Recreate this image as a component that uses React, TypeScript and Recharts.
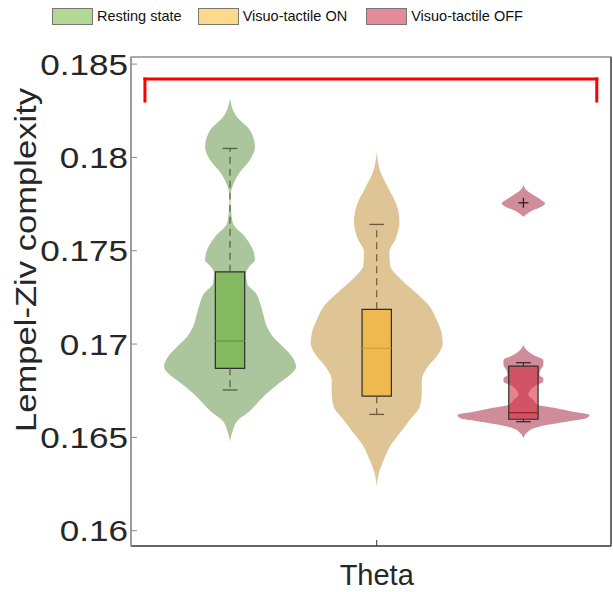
import React from 'react';
import {
  ComposedChart,
  Area,
  XAxis,
  YAxis,
  ReferenceArea,
  ReferenceLine,
  ReferenceDot,
  Legend,
} from 'recharts';

// ---------- data ----------
const CONDITIONS = ['Resting state', 'Visuo-tactile ON', 'Visuo-tactile OFF'];
const CONDITION_POS = [1, 2, 3];
const BAND_LABEL = 'Theta';
const BAND_POS = 2;
const Y_TITLE = 'Lempel-Ziv complexity';
const Y_TICKS = [0.16, 0.165, 0.17, 0.175, 0.18, 0.185];
const Y_DOMAIN: [number, number] = [0.15918, 0.18538];
const X_DOMAIN: [number, number] = [0.325, 3.597];

// violin profiles: [value, half width in group units]
const VIOLIN_REST: [number, number][] = [
  [0.18316, 0], [0.18218, 0.046], [0.18146, 0.136], [0.18057, 0.17], [0.17986, 0.136],
  [0.17914, 0.061], [0.17852, 0.02], [0.17789, 0.003], [0.17718, 0.007], [0.17647, 0.02],
  [0.17575, 0.102], [0.17504, 0.157], [0.1745, 0.17], [0.17414, 0.13], [0.17379, 0.109],
  [0.17325, 0.116], [0.17272, 0.177], [0.17218, 0.205], [0.17164, 0.225], [0.17093, 0.252],
  [0.17039, 0.293], [0.16986, 0.361], [0.16932, 0.423], [0.16878, 0.45], [0.16834, 0.409],
  [0.1679, 0.334], [0.16736, 0.252], [0.16682, 0.184], [0.16629, 0.116], [0.16593, 0.055],
  [0.16539, 0.02], [0.16477, 0],
];
const VIOLIN_ON: [number, number][] = [
  [0.1803, 0], [0.17923, 0.025], [0.17834, 0.08], [0.17745, 0.136], [0.17655, 0.155],
  [0.17566, 0.13], [0.17495, 0.087], [0.17423, 0.091], [0.17352, 0.157], [0.1728, 0.259],
  [0.17209, 0.354], [0.17129, 0.409], [0.17057, 0.443], [0.17004, 0.45], [0.1695, 0.423],
  [0.16878, 0.348], [0.16807, 0.307], [0.16736, 0.307], [0.16664, 0.293], [0.16593, 0.225],
  [0.16522, 0.157], [0.1645, 0.089], [0.16379, 0.048], [0.16307, 0.014], [0.16236, 0],
];
const VIOLIN_OFF_UPPER: [number, number][] = [
  [0.17852, 0], [0.17825, 0.02], [0.17798, 0.068], [0.17771, 0.123], [0.17754, 0.148],
  [0.17736, 0.123], [0.17718, 0.068], [0.177, 0.027], [0.17682, 0],
];
const VIOLIN_OFF_LOWER: [number, number][] = [
  [0.16995, 0], [0.16968, 0.022], [0.16941, 0.068], [0.16914, 0.136], [0.16888, 0.136],
  [0.16861, 0.116], [0.16834, 0.109], [0.16816, 0.136], [0.16798, 0.136], [0.1678, 0.089],
  [0.16754, 0.048], [0.16727, 0.034], [0.167, 0.068], [0.16673, 0.102], [0.16656, 0.225],
  [0.16637, 0.341], [0.1662, 0.45], [0.16602, 0.429], [0.16584, 0.293], [0.16566, 0.157],
  [0.16548, 0.068], [0.16522, 0.02], [0.16495, 0],
];

// box-plot statistics per condition
const WHISKER_LOW = [0.16754, 0.16623, 0.16584];
const Q1 = [0.1687, 0.16721, 0.16597];
const MEDIAN = [0.17016, 0.16977, 0.16632];
const Q3 = [0.17387, 0.17186, 0.16882];
const WHISKER_HIGH = [0.18048, 0.17641, 0.169];
const OUTLIERS = [{ group: 3, value: 0.17757 }];

// significance bracket
const BRACKET_X = [0.42, 3.5];
const BRACKET_Y = [0.18302, 0.1842];

// ---------- styles ----------
const FONT = '"Liberation Sans", Arial, Helvetica, sans-serif';
const BOX_HALF = 0.1;
const CAP_HALF = 0.05;
const VIOLIN_FILL = ['#abc59c', '#dfc495', '#cf8d99'];
const BOX_FILL = ['#84b861', '#eeba50', '#d22b40'];
const BOX_OPACITY = [1, 1, 0.58];
const MEDIAN_COLOR = ['#5f9a40', '#d49e35', '#a3202f'];
const WHISKER_COLOR = ['#4e6143', '#6e5a38', '#4a2028'];
const LEGEND_FILL = ['#b3d895', '#fdd98c', '#e48a98'];

const toArea = (profile: [number, number][], center: number) =>
  profile.map(([v, w]) => ({ y: v, range: [center - w, center + w] }));

const fmt = (v: number) => String(Number(v.toFixed(3)));

function YTick(props: any) {
  const { x, y, payload } = props;
  return (
    <text
      x={x}
      y={y}
      textAnchor="end"
      dominantBaseline="central"
      fontSize={30}
      fill="#262626"
      fontFamily={FONT}
      transform={`translate(${x} ${y}) scale(1.17 1) translate(${-x} ${-y})`}
    >
      {fmt(payload.value)}
    </text>
  );
}

function YTitle(props: any) {
  const vb = props.viewBox || { x: 0, y: 49, width: 123, height: 489 };
  const cx = vb.x + 18;
  const cy = vb.y + vb.height * 0.415;
  return (
    <text
      x={cx}
      y={cy}
      transform={`rotate(-90 ${cx} ${cy})`}
      textAnchor="middle"
      dominantBaseline="central"
      fontSize={29}
      fill="#262626"
      fontFamily={FONT}
      textLength={344}
      lengthAdjust="spacingAndGlyphs"
    >
      {Y_TITLE}
    </text>
  );
}

function LegendContent() {
  return (
    <div
      style={{
        height: 48,
        display: 'flex',
        alignItems: 'flex-start',
        paddingLeft: 44,
        paddingTop: 0,
        fontFamily: FONT,
        fontSize: 14.5,
        color: '#111',
        boxSizing: 'border-box',
      }}
    >
      {CONDITIONS.map((c, i) => (
        <div key={c} style={{ display: 'flex', alignItems: 'center', marginRight: i === 0 ? 16 : 19 }}>
          <div
            style={{
              width: 39,
              height: 15,
              background: LEGEND_FILL[i],
              border: '1px solid #777',
              marginRight: 4,
            }}
          />
          <span style={{ lineHeight: '17px', whiteSpace: 'nowrap' }}>{c}</span>
        </div>
      ))}
    </div>
  );
}

function PlusMark(props: any) {
  const { cx, cy } = props;
  return (
    <g stroke="#3a1a20" strokeWidth={1.3}>
      <line x1={cx - 5} y1={cy} x2={cx + 5} y2={cy} />
      <line x1={cx} y1={cy - 5} x2={cx} y2={cy + 5} />
    </g>
  );
}

export default function App() {
  const W = 605;
  const H = 584;
  const violins = [
    { key: 'rest', data: toArea(VIOLIN_REST, CONDITION_POS[0]), fill: VIOLIN_FILL[0] },
    { key: 'on', data: toArea(VIOLIN_ON, CONDITION_POS[1]), fill: VIOLIN_FILL[1] },
    { key: 'offU', data: toArea(VIOLIN_OFF_UPPER, CONDITION_POS[2]), fill: VIOLIN_FILL[2] },
    { key: 'offL', data: toArea(VIOLIN_OFF_LOWER, CONDITION_POS[2]), fill: VIOLIN_FILL[2] },
  ];
  return (
    <div style={{ position: 'absolute', left: 8, top: 8, width: W, height: H, fontFamily: FONT, overflow: 'hidden' }}>
      <ComposedChart
        width={W}
        height={H}
        layout="vertical"
        margin={{ top: 0, right: 1, bottom: 0, left: 0 }}
      >
        <Legend verticalAlign="top" align="left" content={() => <LegendContent />} />
        <XAxis
          type="number"
          dataKey="x"
          domain={X_DOMAIN}
          allowDataOverflow
          ticks={[BAND_POS]}
          tickFormatter={() => BAND_LABEL}
          height={46}
          tickSize={-6}
          tickMargin={24}
          axisLine={{ stroke: '#4d4d4d', strokeWidth: 1.5 }}
          tickLine={{ stroke: '#333' }}
          tick={{ fontSize: 29, fill: '#262626', fontFamily: FONT }}
        />
        <XAxis
          xAxisId="top"
          orientation="top"
          type="number"
          domain={X_DOMAIN}
          allowDataOverflow
          ticks={[BAND_POS]}
          height={1}
          tickSize={-6}
          tick={false}
          axisLine={{ stroke: '#a0a0a0', strokeWidth: 1 }}
          tickLine={{ stroke: '#333' }}
        />
        <YAxis
          type="number"
          dataKey="y"
          reversed
          domain={Y_DOMAIN}
          allowDataOverflow
          ticks={Y_TICKS}
          width={123}
          tickSize={-6}
          tickMargin={9}
          axisLine={{ stroke: '#9a9a9a', strokeWidth: 1.5 }}
          tickLine={{ stroke: '#888' }}
          tick={<YTick />}
          label={<YTitle />}
        />
        <YAxis
          yAxisId="right"
          orientation="right"
          type="number"
          reversed
          domain={Y_DOMAIN}
          allowDataOverflow
          ticks={Y_TICKS}
          width={1}
          tickSize={-6}
          tick={false}
          axisLine={{ stroke: '#5a5a5a', strokeWidth: 1.5 }}
          tickLine={{ stroke: '#666' }}
        />

        <ReferenceArea
          x1={X_DOMAIN[0]}
          x2={X_DOMAIN[1]}
          y1={Y_DOMAIN[0]}
          y2={Y_DOMAIN[1]}
          fill="none"
          fillOpacity={0}
          stroke="#6a6a6a"
          strokeWidth={1.2}
          strokeOpacity={1}
        />

        {violins.map((v) => (
          <Area
            key={v.key}
            data={v.data}
            dataKey="range"
            type="monotone"
            fill={v.fill}
            fillOpacity={1}
            stroke="none"
            dot={false}
            activeDot={false}
            isAnimationActive={false}
          />
        ))}

        {CONDITION_POS.map((c, i) => (
          <ReferenceLine
            key={`wh-${i}`}
            segment={[{ x: c, y: Q3[i] }, { x: c, y: WHISKER_HIGH[i] }]}
            stroke={WHISKER_COLOR[i]}
            strokeWidth={1.2}
            strokeDasharray="7 5"
          />
        ))}
        {CONDITION_POS.map((c, i) => (
          <ReferenceLine
            key={`wl-${i}`}
            segment={[{ x: c, y: Q1[i] }, { x: c, y: WHISKER_LOW[i] }]}
            stroke={WHISKER_COLOR[i]}
            strokeWidth={1.2}
            strokeDasharray="7 5"
          />
        ))}
        {CONDITION_POS.map((c, i) => (
          <ReferenceLine
            key={`ch-${i}`}
            segment={[{ x: c - CAP_HALF, y: WHISKER_HIGH[i] }, { x: c + CAP_HALF, y: WHISKER_HIGH[i] }]}
            stroke={WHISKER_COLOR[i]}
            strokeWidth={1.3}
          />
        ))}
        {CONDITION_POS.map((c, i) => (
          <ReferenceLine
            key={`cl-${i}`}
            segment={[{ x: c - CAP_HALF, y: WHISKER_LOW[i] }, { x: c + CAP_HALF, y: WHISKER_LOW[i] }]}
            stroke={WHISKER_COLOR[i]}
            strokeWidth={1.3}
          />
        ))}
        {CONDITION_POS.map((c, i) => (
          <ReferenceArea
            key={`box-${i}`}
            x1={c - BOX_HALF}
            x2={c + BOX_HALF}
            y1={Q1[i]}
            y2={Q3[i]}
            fill={BOX_FILL[i]}
            fillOpacity={BOX_OPACITY[i]}
            stroke="#2e2e2e"
            strokeWidth={1.2}
            strokeOpacity={1}
          />
        ))}
        {CONDITION_POS.map((c, i) => (
          <ReferenceLine
            key={`med-${i}`}
            segment={[{ x: c - BOX_HALF, y: MEDIAN[i] }, { x: c + BOX_HALF, y: MEDIAN[i] }]}
            stroke={MEDIAN_COLOR[i]}
            strokeWidth={1.3}
          />
        ))}
        {OUTLIERS.map((o, i) => (
          <ReferenceDot key={`out-${i}`} x={o.group} y={o.value} r={5} shape={(p: any) => <PlusMark {...p} />} />
        ))}

        <ReferenceLine
          segment={[{ x: BRACKET_X[0], y: BRACKET_Y[0] }, { x: BRACKET_X[0], y: BRACKET_Y[1] }]}
          stroke="#ff0000"
          strokeWidth={3}
          strokeLinecap="square"
        />
        <ReferenceLine
          segment={[{ x: BRACKET_X[0], y: BRACKET_Y[1] }, { x: BRACKET_X[1], y: BRACKET_Y[1] }]}
          stroke="#ff0000"
          strokeWidth={3}
          strokeLinecap="square"
        />
        <ReferenceLine
          segment={[{ x: BRACKET_X[1], y: BRACKET_Y[1] }, { x: BRACKET_X[1], y: BRACKET_Y[0] }]}
          stroke="#ff0000"
          strokeWidth={3}
          strokeLinecap="square"
        />
      </ComposedChart>
    </div>
  );
}
